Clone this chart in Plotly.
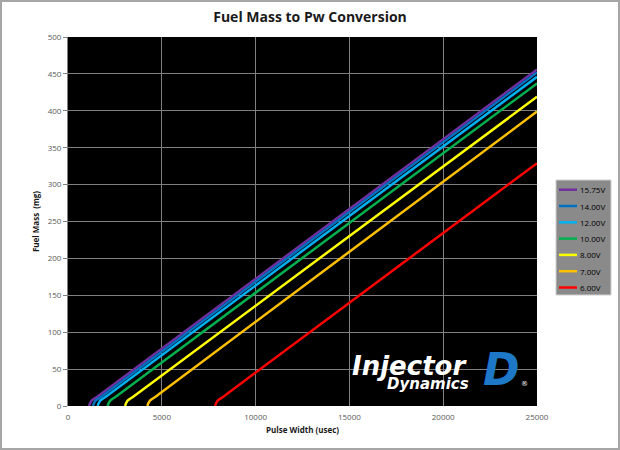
import plotly.graph_objects as go

# injector voltage curves: pulse width (usec) vs fuel mass (mg)
voltages = ["15.75V", "14.00V", "12.00V", "10.00V", "8.00V", "7.00V", "6.00V"]
colors = ["#7030A0", "#0070C0", "#00B0F0", "#00B050", "#FFFF00", "#FFC000", "#FF0000"]

pw_1575 = [1120, 1180, 1270, 1520, 25000]
mass_1575 = [0, 4, 7.5, 12, 456]
pw_1400 = [1330, 1390, 1480, 1730, 25000]
mass_1400 = [0, 4, 7.5, 12, 452]
pw_1200 = [1580, 1640, 1730, 1980, 25000]
mass_1200 = [0, 4, 7.5, 12, 446]
pw_1000 = [2110, 2170, 2260, 2510, 25000]
mass_1000 = [0, 4, 7.5, 12, 437]
pw_800 = [3040, 3100, 3190, 3440, 25000]
mass_800 = [0, 4, 7.5, 12, 419]
pw_700 = [4230, 4290, 4380, 4630, 25000]
mass_700 = [0, 4, 7.5, 12, 399]
pw_600 = [7840, 7900, 7990, 8240, 25000]
mass_600 = [0, 4, 7.5, 12, 329]

series = [
    (pw_1575, mass_1575), (pw_1400, mass_1400), (pw_1200, mass_1200),
    (pw_1000, mass_1000), (pw_800, mass_800), (pw_700, mass_700), (pw_600, mass_600),
]

x_ticks = [0, 5000, 10000, 15000, 20000, 25000]
x_labels = ["0", "5000", "10000", "15000", "20000", "25000"]
y_ticks = list(range(0, 501, 50))

FONT = "Open Sans"
TICK = "#595959"

# plot area in pixels: x 68..537, y 37..406
PW, PH = 469, 369


def px(x):
    return (x - 68) / PW


def py(y):
    return (406 - y) / PH


fig = go.Figure()
for name, col, (xs, ys) in zip(voltages, colors, series):
    fig.add_trace(go.Scatter(x=xs, y=ys, name=name, mode="lines", showlegend=False,
                             line=dict(color=col, width=2.5, shape="spline", smoothing=0.6)))

fig.update_layout(
    width=620, height=450,
    paper_bgcolor="white", plot_bgcolor="black",
    margin=dict(l=68, r=83, t=37, b=44, autoexpand=False),
    title=dict(text="<b>Fuel Mass to Pw Conversion</b>", x=0.5, xanchor="center",
               y=0.962, yanchor="middle",
               font=dict(family=FONT, size=14, color="#1a1a1a")),
    font=dict(family=FONT, size=8, color=TICK),
)
fig.update_xaxes(range=[0, 25000], tickvals=x_ticks, ticktext=x_labels, showgrid=True,
                 gridcolor="#808080", gridwidth=1, zeroline=False, ticks="", showline=False,
                 ticklabelstandoff=5,
                 title=dict(text="<b>Pulse Width (usec)</b>", standoff=6,
                            font=dict(family=FONT, size=8, color="#1a1a1a")))
fig.update_yaxes(range=[0, 500], tickvals=y_ticks, showgrid=True, gridcolor="#808080",
                 gridwidth=1, zeroline=False, ticks="outside", ticklen=4, tickcolor="#808080",
                 showline=True, linecolor="#808080",
                 title=dict(text="<b>Fuel Mass  (mg)</b>", standoff=6,
                            font=dict(family=FONT, size=8, color="#1a1a1a")))

# legend box drawn by hand (Excel-style tight spacing)
fig.add_shape(type="rect", xref="paper", yref="paper", x0=px(556), x1=px(611),
              y0=py(295), y1=py(180), fillcolor="#8a8a8a", line=dict(color="#d0d0d0", width=1))
for i, (name, col) in enumerate(zip(voltages, colors)):
    yy = py(189.7 + 16.3 * i)
    fig.add_shape(type="line", xref="paper", yref="paper", x0=px(559), x1=px(577),
                  y0=yy, y1=yy, line=dict(color=col, width=2.5))
    fig.add_annotation(x=px(578), y=yy, xref="paper", yref="paper", text=name,
                       showarrow=False, xanchor="left", yanchor="middle",
                       font=dict(family=FONT, size=8, color="black"))

# logo
LOGO = "DejaVu Sans"
fig.add_annotation(x=px(469), y=py(366), xref="paper", yref="paper", text="<b><i>Injector</i></b>",
                   showarrow=False, xanchor="right", yanchor="middle",
                   font=dict(family=LOGO, size=26, color="white"))
fig.add_annotation(x=px(471), y=py(384), xref="paper", yref="paper", text="<b><i>Dynamics</i></b>",
                   showarrow=False, xanchor="right", yanchor="middle",
                   font=dict(family=LOGO, size=15, color="white"))
fig.add_annotation(x=px(501), y=py(369), xref="paper", yref="paper", text="<b><i>D</i></b>",
                   showarrow=False, xanchor="center", yanchor="middle",
                   font=dict(family=LOGO, size=44, color="#1E78C8"))
fig.add_annotation(x=px(524), y=py(384), xref="paper", yref="paper", text="®",
                   showarrow=False, xanchor="center", yanchor="middle",
                   font=dict(family=LOGO, size=7, color="white"))

# outer frame
fig.add_shape(type="rect", xref="paper", yref="paper", x0=px(1), x1=px(619),
              y0=py(449), y1=py(1), line=dict(color="#a6a6a6", width=2))

fig.write_html("out.html", config={"displayModeBar": False},
               post_script="document.body.style.margin='0';")
